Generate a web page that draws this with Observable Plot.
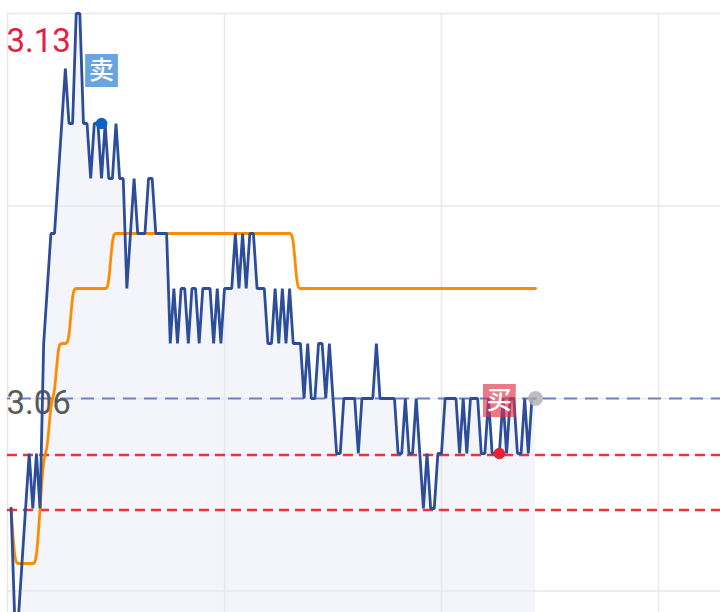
<!DOCTYPE html>
<html>
<head>
<meta charset="utf-8">
<script src="https://cdn.jsdelivr.net/npm/d3@7"></script>
<script src="https://cdn.jsdelivr.net/npm/@observablehq/plot@0.6"></script>
<style>
  html, body { margin: 0; padding: 0; background: #fff; }
  #chart svg { display: block; overflow: hidden; }
</style>
</head>
<body>
<div id="chart"></div>
<script>
// minute index of each trade point (9:30 = 0, 240 minutes in session)
const minutes = d3.range(1, 147);

// last price per minute
const price = [
  3.04, 3.02, 3.02, 3.03, 3.04, 3.05, 3.04, 3.05, 3.04, 3.07,
  3.08, 3.09, 3.09, 3.10, 3.11, 3.12, 3.11, 3.11, 3.13, 3.13,
  3.11, 3.11, 3.10, 3.11, 3.11, 3.10, 3.11, 3.10, 3.10, 3.11,
  3.10, 3.10, 3.08, 3.09, 3.10, 3.09, 3.09, 3.09, 3.10, 3.10,
  3.09, 3.09, 3.09, 3.09, 3.07, 3.08, 3.07, 3.08, 3.08, 3.07,
  3.08, 3.08, 3.07, 3.08, 3.08, 3.08, 3.07, 3.08, 3.07, 3.08,
  3.08, 3.08, 3.09, 3.08, 3.09, 3.08, 3.09, 3.09, 3.08, 3.08,
  3.08, 3.07, 3.07, 3.08, 3.07, 3.08, 3.07, 3.08, 3.07, 3.07,
  3.07, 3.06, 3.07, 3.06, 3.06, 3.07, 3.07, 3.06, 3.07, 3.06,
  3.05, 3.05, 3.06, 3.06, 3.06, 3.06, 3.05, 3.06, 3.06, 3.06,
  3.06, 3.07, 3.06, 3.06, 3.06, 3.06, 3.06, 3.05, 3.05, 3.06,
  3.05, 3.05, 3.06, 3.05, 3.04, 3.05, 3.04, 3.04, 3.05, 3.05,
  3.06, 3.06, 3.06, 3.06, 3.05, 3.06, 3.05, 3.06, 3.06, 3.06,
  3.05, 3.05, 3.06, 3.05, 3.05, 3.05, 3.06, 3.05, 3.06, 3.06,
  3.05, 3.05, 3.06, 3.05, 3.06, 3.06
];

// average price per minute
const avgPrice = [
  3.04, 3.03, 3.03, 3.03, 3.03, 3.03, 3.03, 3.03, 3.04, 3.05,
  3.05, 3.06, 3.06, 3.07, 3.07, 3.07, 3.07, 3.08, 3.08, 3.08,
  3.08, 3.08, 3.08, 3.08, 3.08, 3.08, 3.08, 3.08, 3.09, 3.09,
  3.09, 3.09, 3.09, 3.09, 3.09, 3.09, 3.09, 3.09, 3.09, 3.09,
  3.09, 3.09, 3.09, 3.09, 3.09, 3.09, 3.09, 3.09, 3.09, 3.09,
  3.09, 3.09, 3.09, 3.09, 3.09, 3.09, 3.09, 3.09, 3.09, 3.09,
  3.09, 3.09, 3.09, 3.09, 3.09, 3.09, 3.09, 3.09, 3.09, 3.09,
  3.09, 3.09, 3.09, 3.09, 3.09, 3.09, 3.09, 3.09, 3.09, 3.08,
  3.08, 3.08, 3.08, 3.08, 3.08, 3.08, 3.08, 3.08, 3.08, 3.08,
  3.08, 3.08, 3.08, 3.08, 3.08, 3.08, 3.08, 3.08, 3.08, 3.08,
  3.08, 3.08, 3.08, 3.08, 3.08, 3.08, 3.08, 3.08, 3.08, 3.08,
  3.08, 3.08, 3.08, 3.08, 3.08, 3.08, 3.08, 3.08, 3.08, 3.08,
  3.08, 3.08, 3.08, 3.08, 3.08, 3.08, 3.08, 3.08, 3.08, 3.08,
  3.08, 3.08, 3.08, 3.08, 3.08, 3.08, 3.08, 3.08, 3.08, 3.08,
  3.08, 3.08, 3.08, 3.08, 3.08, 3.08
];

// scale extents: previous close ± 0.07, full session of 240 minutes
const prevClose = 3.06;
const priceDomain = [2.99, 3.13];
const minuteDomain = [0, 240];

// grid lines
const gridPrices = [3.13, 3.095, 3.06, 3.025];
const gridMinutes = [0, 60, 120, 180];

// support / pressure lines
const levelPrices = [3.05, 3.04];

// axis labels shown
const highLabel = [{m: 0, p: 3.13, label: "3.13"}];
const closeLabel = [{m: 0, p: 3.06, label: "3.06"}];

// trade signals
const sellSignal = [{m: 26, p: 3.11, label: "卖"}];
const buySignal = [{m: 136, p: 3.05, label: "买"}];
const lastPoint = [{m: 146, p: 3.06}];

const data = minutes.map((m, i) => ({m, p: price[i], a: avgPrice[i]}));

const chart = Plot.plot({
  width: 720,
  height: 612,
  margin: 0,
  style: {fontFamily: "Roboto, 'Noto Sans', sans-serif", background: "#fff"},
  x: {domain: minuteDomain, range: [7, 875], axis: null},
  y: {domain: priceDomain, range: [783, 13], axis: null},
  marks: [
    Plot.areaY(data, {x: "m", y1: priceDomain[0], y2: "p", fill: "#f3f5fa"}),
    Plot.ruleY(gridPrices, {x1: minuteDomain[0], x2: minuteDomain[1], stroke: "#e8e8ec", strokeWidth: 1.5}),
    Plot.ruleX(gridMinutes, {y1: priceDomain[0], y2: priceDomain[1], stroke: "#e8e8ec", strokeWidth: 1.5}),
    Plot.ruleY([prevClose], {x1: minuteDomain[0], x2: minuteDomain[1], stroke: "#6e83c2", strokeWidth: 2,
      strokeDasharray: "13,8", strokeDashoffset: 10}),
    Plot.ruleY(levelPrices, {x1: minuteDomain[0], x2: minuteDomain[1], stroke: "#ee3338", strokeWidth: 2.6,
      strokeDasharray: "10,6", dy: 1.5}),
    Plot.text(highLabel, {x: "m", y: "p", text: "label", textAnchor: "start", lineAnchor: "middle",
      dx: -1, dy: 28, fontSize: 33, fill: "#e4213d", fontFamily: "Roboto"}),
    Plot.text(closeLabel, {x: "m", y: "p", text: "label", textAnchor: "start", lineAnchor: "middle",
      dx: -1, dy: 5, fontSize: 33, fill: "#5a5a5a", fontFamily: "Roboto"}),
    Plot.line(data, {x: "m", y: "a", stroke: "#ff8c00", strokeWidth: 2.8, curve: "basis"}),
    Plot.line(data, {x: "m", y: "p", stroke: "#2c4d9a", strokeWidth: 2.8, strokeLinejoin: "miter"}),
    // sell marker
    Plot.dot(sellSignal, {x: "m", y: "p", symbol: "square", r: 18.5, dy: -53, fill: "#3d8ad6", fillOpacity: 0.78, stroke: "none"}),
    Plot.text(sellSignal, {x: "m", y: "p", text: "label", dy: -53, fontSize: 25, fill: "white",
      fontFamily: "Noto Sans CJK SC", fontWeight: 500, lineAnchor: "middle"}),
    Plot.dot(sellSignal, {x: "m", y: "p", r: 5.8, fill: "#0b63c9", stroke: "none"}),
    // buy marker
    Plot.dot(buySignal, {x: "m", y: "p", symbol: "square", r: 18.5, dy: -53, fill: "#e23148", fillOpacity: 0.65, stroke: "none"}),
    Plot.text(buySignal, {x: "m", y: "p", text: "label", dy: -53, fontSize: 25, fill: "white",
      fontFamily: "Noto Sans CJK SC", fontWeight: 500, lineAnchor: "middle"}),
    Plot.dot(buySignal, {x: "m", y: "p", r: 5.8, fill: "#e8203a", stroke: "none"}),
    // last point
    Plot.dot(lastPoint, {x: "m", y: "p", r: 7.5, fill: "#b4b4b8", fillOpacity: 0.85, stroke: "none"})
  ]
});

document.getElementById("chart").appendChild(chart);
</script>
</body>
</html>
